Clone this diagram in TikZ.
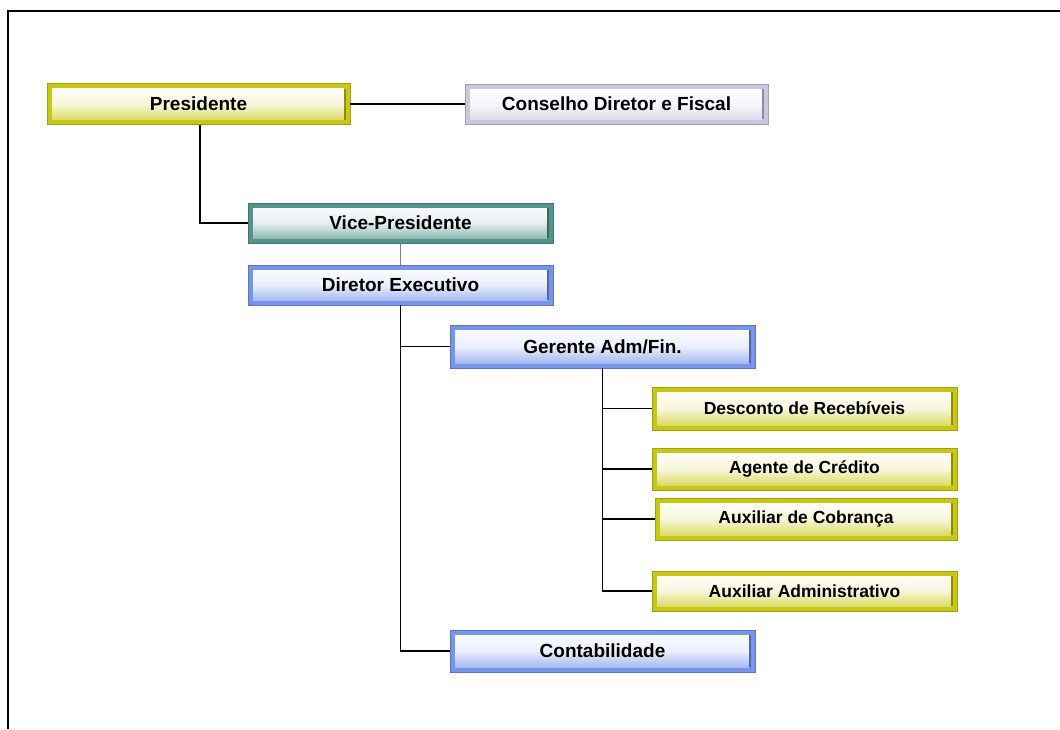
\documentclass[tikz,border=0pt]{standalone}
\usepackage{fontspec}
\setmainfont{Liberation Sans}
\usetikzlibrary{calc}
\definecolor{yel}{RGB}{200,200,20}
\definecolor{lav}{RGB}{200,200,222}
\definecolor{tea}{RGB}{85,148,138}
\definecolor{blu}{RGB}{118,148,232}
\tikzset{
  orgbox/.style={minimum width=305pt, minimum height=41pt, inner sep=0pt,
    fill=#1, draw=#1!80!black, line width=0.6pt,
    font=\fontsize{19}{22}\selectfont\bfseries,
    path picture={
      \shade[top color=white, bottom color=#1!80, middle color=#1!15]
        ([shift={(5pt,-5pt)}]path picture bounding box.north west)
        rectangle ([shift={(-6pt,5pt)}]path picture bounding box.south east);
      \fill[#1!70!black]
        ([shift={(-6pt,-5pt)}]path picture bounding box.north east)
        rectangle ([shift={(-4pt,5pt)}]path picture bounding box.south east);
    }},
  smallbox/.style={orgbox=#1, font=\fontsize{17.5}{20}\selectfont\bfseries},
  link/.style={line width=1.5pt, black}
}
\begin{document}
\begin{tikzpicture}[x=1pt,y=-1pt]
\useasboundingbox (0,0) rectangle (1060,729);
\fill[white] (0,0) rectangle (1060,729);
\draw[line width=2.6pt] (8,729) -- (8,11) -- (1060,11);

\node[orgbox=yel, minimum width=303pt] (pres) at (198.5,104) {Presidente};
\node[orgbox=lav, minimum width=303pt, minimum height=40pt] (cons) at (616.5,104) {Conselho Diretor e Fiscal};
\node[orgbox=tea, minimum height=40pt] (vice) at (400.5,223) {Vice-Presidente};
\node[orgbox=blu, minimum height=40pt] (dir) at (400.5,285) {Diretor Executivo};
\node[orgbox=blu, minimum height=43pt] (ger) at (602.5,346.5) {Gerente Adm/Fin.};
\node[smallbox=yel, minimum height=43pt] (desc) at (804.5,408.5) {Desconto de Recebíveis};
\node[smallbox=yel, minimum height=42pt] (agen) at (804.5,469) {Agente de Crédito};
\node[smallbox=yel, minimum width=302pt, minimum height=42pt] (cobr) at (806,519) {Auxiliar de Cobrança};
\node[smallbox=yel, minimum height=40pt] (adm) at (804.5,591) {Auxiliar Administrativo};
\node[orgbox=blu, minimum height=42pt] (cont) at (602.5,651) {Contabilidade};

\draw[link] (pres.east) -- (cons.west);
\draw[link] ([xshift=1.5pt]pres.south) |- (vice.west);
\draw[line width=1.8pt, gray] (vice.south) -- (dir.north);
\draw[link] (dir.south) |- (cont.west);
\draw[link] (dir.south |- ger.west) -- (ger.west);
\draw[link] (ger.south) |- (adm.west);
\draw[link] (ger.south |- desc.west) -- (desc.west);
\draw[link] (ger.south |- agen.west) -- (agen.west);
\draw[link] (ger.south |- cobr.west) -- (cobr.west);
\end{tikzpicture}
\end{document}
